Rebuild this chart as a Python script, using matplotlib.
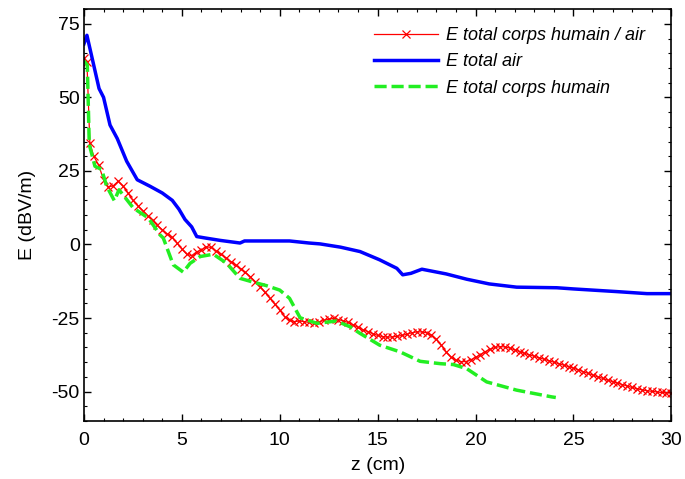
import matplotlib.pyplot as plt
from matplotlib.ticker import MultipleLocator

plt.rcParams['font.family'] = ['Liberation Sans', 'DejaVu Sans']
plt.rcParams['axes.unicode_minus'] = False

# E total corps humain / air (red, x markers)
z_mix = [0.0, 0.15, 0.3, 0.5, 0.75, 1.0, 1.25, 1.5, 1.75, 2.0, 2.25, 2.5, 2.75,
         3.0, 3.25, 3.5, 3.75, 4.0, 4.25, 4.5, 4.75, 5.0, 5.25, 5.5, 5.75,
         6.0, 6.25, 6.5, 6.75, 7.0, 7.25, 7.5, 7.75, 8.0, 8.25, 8.5, 8.75,
         9.0, 9.25, 9.5, 9.75, 10.0, 10.25, 10.5, 10.75, 11.0, 11.25, 11.5, 11.75,
         12.0, 12.25, 12.5, 12.75, 13.0, 13.25, 13.5, 13.75, 14.0, 14.25, 14.5, 14.75,
         15.0, 15.25, 15.5, 15.75, 16.0, 16.25, 16.5, 16.75, 17.0, 17.25, 17.5, 17.75,
         18.0, 18.25, 18.5, 18.75, 19.0, 19.25, 19.5, 19.75, 20.0, 20.25, 20.5, 20.75,
         21.0, 21.25, 21.5, 21.75, 22.0, 22.25, 22.5, 22.75, 23.0, 23.25, 23.5, 23.75,
         24.0, 24.25, 24.5, 24.75, 25.0, 25.25, 25.5, 25.75, 26.0, 26.25, 26.5, 26.75,
         27.0, 27.25, 27.5, 27.75, 28.0, 28.25, 28.5, 28.75, 29.0, 29.25, 29.5, 29.75, 30.0]
e_mix = [63.3, 62.0, 34.5, 30.0, 27.0, 22.0, 19.5, 20.0, 21.5, 19.8, 17.5, 15.0, 13.2,
         11.5, 9.8, 8.2, 6.5, 5.0, 3.6, 2.4, 0.5, -1.5, -3.3, -3.8, -2.5,
         -1.8, -0.8, -1.0, -2.2, -3.3, -4.5, -5.8, -7.0, -8.3, -9.5, -11.0, -12.6,
         -14.3, -16.3, -18.3, -20.3, -22.3, -24.5, -25.8, -26.2, -26.0, -26.2, -26.5, -26.6,
         -26.3, -25.8, -25.4, -25.1, -25.5, -26.0, -26.5, -27.3, -28.2, -29.0, -29.6, -30.3,
         -30.9, -31.3, -31.5, -31.4, -31.2, -30.9, -30.5, -30.0, -29.7, -29.7, -30.0, -30.8,
         -32.2, -34.2, -36.5, -38.3, -39.3, -39.8, -39.8, -39.2, -38.4, -37.4, -36.4, -35.6,
         -35.0, -34.7, -34.8, -35.2, -35.8, -36.4, -37.0, -37.5, -38.0, -38.5, -39.0, -39.5,
         -40.0, -40.5, -41.0, -41.5, -42.0, -42.6, -43.2, -43.8, -44.4, -45.0, -45.5, -46.1,
         -46.6, -47.1, -47.6, -48.1, -48.6, -49.0, -49.4, -49.7, -49.9, -50.1, -50.3, -50.4, -50.5]

# E total air (blue)
z_air = [0.0, 0.15, 0.77, 1.0, 1.33, 1.7, 2.18, 2.72, 3.37, 4.0, 4.51, 4.85, 5.16,
         5.5, 5.76, 6.2, 6.95, 7.97, 8.2, 10.5, 11.5, 12.06, 13.1, 14.1, 15.1,
         15.98, 16.28, 16.7, 17.26, 18.5, 19.55, 20.7, 22.1, 24.15, 25.0, 27.2, 28.76, 30.0]
e_air = [68.2, 71.1, 53.0, 50.0, 40.6, 36.0, 28.3, 22.0, 19.8, 17.5, 15.0, 12.0, 8.5,
         6.0, 2.7, 2.2, 1.4, 0.5, 1.2, 1.2, 0.5, 0.2, -0.9, -2.4, -5.2,
         -8.1, -10.3, -9.8, -8.4, -10.0, -11.8, -13.4, -14.5, -14.7, -15.1, -16.0, -16.7, -16.7]

# E total corps humain (green, dashed)
z_body = [0.0, 0.17, 0.27, 0.56, 0.9, 1.16, 1.55, 1.79, 2.52, 3.29, 3.88, 4.05, 4.56,
          5.07, 5.42, 5.93, 6.61, 7.29, 7.97, 8.65, 9.33, 10.0, 10.5, 11.04, 11.9,
          12.9, 13.6, 14.1, 15.1, 16.15, 17.17, 18.2, 18.87, 19.55, 20.57, 22.1, 23.9, 24.1]
e_body = [62.4, 61.0, 34.0, 26.6, 25.5, 19.8, 14.9, 18.6, 12.4, 9.0, 3.3, 2.2, -6.9,
          -9.4, -6.4, -4.1, -3.3, -6.4, -11.5, -12.8, -14.0, -15.5, -18.3, -24.9, -26.8,
          -26.0, -28.0, -30.2, -34.2, -36.5, -39.7, -40.5, -40.8, -42.2, -46.7, -49.5, -51.8, -52.0]

fig = plt.figure(figsize=(6.85, 4.79), dpi=100)
ax = fig.add_axes([0.1226, 0.121, 0.8574, 0.86])

ax.plot(z_mix, e_mix, color='red', lw=0.9, marker='x', ms=5.5, mew=0.9,
        label='E total corps humain / air')
ax.plot(z_air, e_air, color='#0000ff', lw=2.5, label='E total air')
ax.plot(z_body, e_body, color='#22ee22', lw=2.5, dashes=(3.5, 1.4),
        label='E total corps humain')

ax.set_xlim(0, 30)
ax.set_ylim(-60, 80)
ax.xaxis.set_major_locator(MultipleLocator(5))
ax.xaxis.set_minor_locator(MultipleLocator(1))
ax.yaxis.set_major_locator(MultipleLocator(25))
ax.yaxis.set_minor_locator(MultipleLocator(5))
ax.tick_params(which='both', direction='in', top=True, right=True, labelsize=14)
ax.tick_params(which='major', length=5, width=1)
ax.tick_params(which='minor', length=2.5, width=0.8)
ax.tick_params(axis='x', pad=8)
ax.tick_params(axis='y', pad=3)
for s in ax.spines.values():
    s.set_linewidth(1.2)

ax.set_xlabel('z (cm)', fontsize=14, labelpad=6)
ax.set_ylabel('E (dBV/m)', fontsize=14, labelpad=11)

leg = ax.legend(loc='upper right', bbox_to_anchor=(0.968, 0.973), borderaxespad=0,
                frameon=False, handlelength=3.55, prop={'style': 'italic', 'size': 13},
                labelspacing=0.5, handletextpad=0.45)

plt.savefig('out.png', dpi=100)
